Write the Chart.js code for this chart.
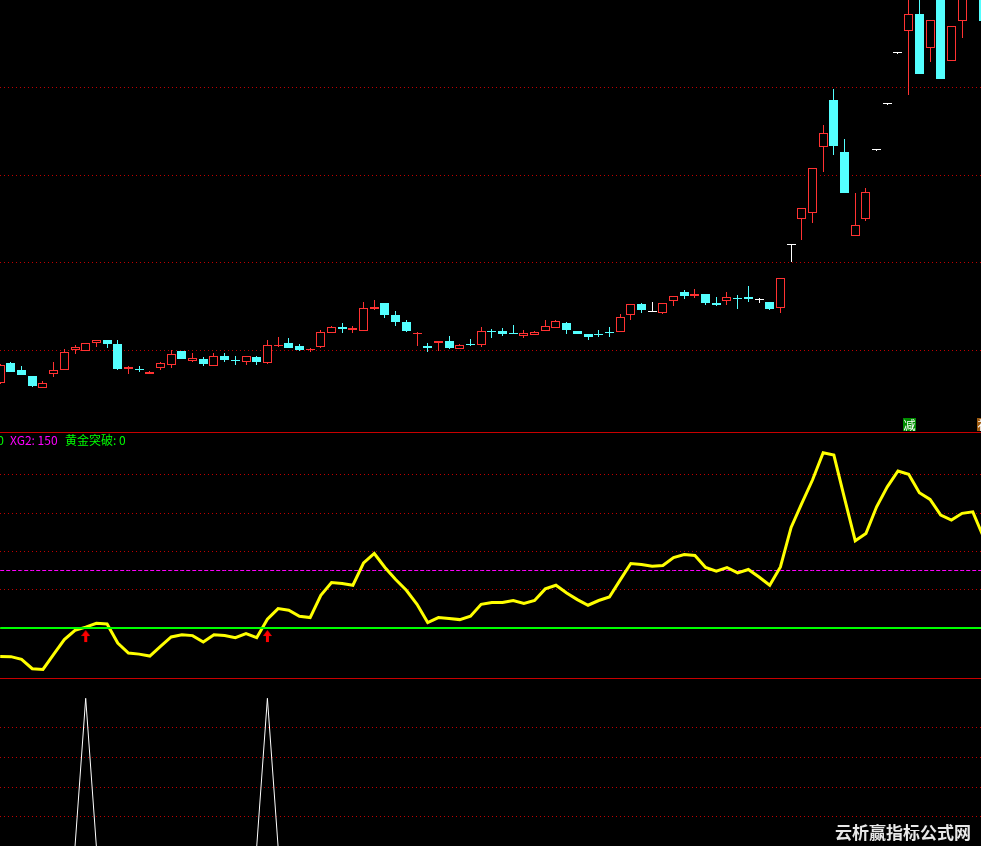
<!DOCTYPE html>
<html lang="zh-CN">
<head>
<meta charset="utf-8">
<title>黄金突破</title>
<script src="https://cdn.jsdelivr.net/npm/chart.js@4.4.1/dist/chart.umd.min.js"></script>
<style>
html,body{margin:0;padding:0;background:#000;width:981px;height:846px;overflow:hidden;position:relative;}
canvas{position:absolute;left:0;display:block;}
#c1{top:0;}
#c2{top:433px;}
#c3{top:679px;}
.sep{position:absolute;left:0;width:981px;height:1px;background:#c80000;}
#legend{position:absolute;top:433px;left:0;height:15px;width:981px;font:12px "Noto Sans CJK SC",sans-serif;line-height:14px;white-space:nowrap;}
#legend span{position:absolute;top:0;}
#wm{position:absolute;left:835px;top:819px;font:bold 17px "Noto Sans CJK SC",sans-serif;color:#e8e8e8;white-space:nowrap;}
</style>
</head>
<body>
<canvas id="c1" width="981" height="432"></canvas>
<div class="sep" style="top:432px"></div>
<canvas id="c2" width="981" height="245"></canvas>
<div class="sep" style="top:678px"></div>
<canvas id="c3" width="981" height="167"></canvas>
<div id="legend">
  <span id="lg1" style="right:977px;color:#00ff00"></span>
  <span id="lg2" style="left:10px;color:#ff00ff"></span>
  <span id="lg3" style="left:65px;color:#00ff00"></span>
</div>
<div id="wm">云析赢指标公式网</div>
<script>
// ---------- data ----------
const OPEN = [6.29, 8.54, 7.78, 7.09, 5.76, 7.35, 7.81, 10.06, 9.98, 10.82,
  11.20, 10.74, 7.89, 7.83, 7.32, 8.00, 8.38, 9.94, 8.80, 9.03,
  8.23, 9.37, 8.92, 8.72, 9.26, 8.57, 10.51, 10.86, 10.51, 10.06,
  10.40, 12.03, 12.68, 12.34, 12.26, 14.77, 15.42, 14.05, 13.25, 11.85,
  10.51, 10.82, 11.09, 10.21, 10.74, 10.66, 12.26, 12.23, 12.03, 11.69,
  11.80, 12.26, 12.60, 13.14, 12.23, 11.88, 11.88, 12.15, 12.15, 14.09,
  15.31, 14.36, 14.31, 15.68, 16.68, 16.25, 16.45, 15.46, 15.68, 15.99,
  16.11, 15.76, 15.54, 14.89, 22.01, 25.04, 25.73, 33.26, 38.59, 32.65,
  23.10, 25.04, 32.85, 38.10, 43.92, 46.50, 48.40, 44.56, 52.28, 43.07,
  47.64, 52.60, 53.42];
const HIGH = [8.46, 8.69, 8.23, 7.09, 6.52, 8.69, 10.14, 10.63, 10.86, 11.20,
  11.20, 11.20, 8.23, 8.23, 7.66, 8.69, 10.06, 9.94, 9.71, 9.26,
  9.71, 9.71, 9.37, 9.37, 9.37, 11.20, 11.54, 11.43, 10.74, 10.28,
  12.34, 12.80, 13.14, 12.80, 15.54, 15.76, 15.42, 14.51, 13.48, 12.15,
  10.86, 11.09, 11.66, 10.74, 11.31, 12.68, 12.45, 12.57, 12.91, 12.34,
  12.23, 13.48, 13.48, 13.25, 12.23, 11.88, 12.34, 12.68, 14.17, 15.31,
  15.42, 15.54, 15.42, 16.22, 16.91, 17.02, 16.45, 16.11, 16.68, 16.33,
  17.36, 15.99, 15.54, 18.27, 22.01, 26.23, 30.79, 35.74, 39.84, 34.14,
  27.97, 28.55, 32.85, 38.10, 43.92, 51.14, 50.91, 47.68, 52.85, 47.00,
  52.28, 56.00, 53.99];
const LOW = [6.18, 7.55, 7.20, 5.84, 5.76, 7.01, 7.81, 9.64, 9.98, 10.43,
  10.28, 7.78, 7.32, 7.55, 7.32, 7.78, 8.00, 9.03, 8.69, 8.23,
  8.23, 8.69, 8.35, 8.35, 8.35, 8.46, 10.40, 10.28, 9.94, 9.83,
  10.28, 12.03, 12.03, 12.03, 12.26, 14.66, 13.74, 12.83, 12.15, 10.55,
  9.86, 9.98, 10.17, 10.21, 10.51, 10.43, 11.46, 11.69, 11.92, 11.46,
  11.80, 12.26, 12.60, 11.92, 11.92, 11.23, 11.58, 11.58, 12.15, 13.52,
  14.31, 14.36, 14.20, 15.11, 15.88, 15.99, 15.23, 15.11, 15.23, 14.77,
  15.57, 15.46, 14.66, 14.31, 20.10, 22.61, 24.59, 30.41, 32.31, 28.01,
  23.10, 24.81, 32.85, 38.10, 43.92, 39.16, 41.59, 42.96, 40.98, 43.07,
  45.70, 52.20, 47.64];
const CLOSE = [8.35, 7.58, 7.20, 5.95, 6.29, 7.78, 9.83, 10.40, 10.86, 11.20,
  10.74, 7.89, 8.12, 7.72, 7.55, 8.57, 9.60, 9.03, 9.14, 8.46,
  9.37, 8.92, 8.80, 9.37, 8.69, 10.63, 10.63, 10.28, 10.06, 10.17,
  12.11, 12.68, 12.49, 12.57, 14.85, 14.97, 14.09, 13.29, 12.26, 12.03,
  10.32, 11.09, 10.32, 10.63, 10.59, 12.23, 12.11, 11.88, 11.92, 12.00,
  12.11, 12.80, 13.37, 12.37, 11.92, 11.58, 11.77, 12.03, 13.82, 15.31,
  14.66, 14.36, 15.42, 16.22, 16.22, 16.48, 15.46, 15.23, 16.11, 15.88,
  15.88, 15.76, 14.77, 18.27, 22.01, 26.23, 30.79, 34.79, 33.37, 28.01,
  24.29, 28.05, 32.85, 38.10, 43.92, 48.37, 41.59, 47.68, 40.98, 47.00,
  51.71, 55.20, 47.64];
// indicator (yellow line)
const LINE = [75.3, 75.1, 72.7, 64.6, 64.0, 77.1, 89.9, 98.0, 100.8, 104.1,
  103.5, 86.9, 78.2, 77.3, 75.6, 84.1, 92.2, 94.2, 93.4, 87.8,
  94.2, 93.4, 91.6, 95.1, 91.6, 107.6, 116.9, 115.4, 110.2, 109.1,
  128.5, 139.5, 138.7, 137.2, 156.6, 164.8, 152.6, 142.2, 132.8, 120.6,
  104.7, 109.1, 108.2, 107.3, 110.2, 120.6, 122.1, 122.1, 123.9, 121.3,
  123.9, 134.0, 137.2, 130.5, 124.7, 119.8, 123.9, 127.0, 141.6, 156.1,
  155.2, 153.7, 154.4, 161.3, 163.9, 163.1, 152.6, 149.4, 152.6, 147.9,
  150.9, 144.4, 137.2, 153.1, 187.5, 208.4, 228.7, 252.4, 250.4, 212.7,
  175.8, 182.2, 205.4, 222.8, 236.5, 233.6, 217.6, 211.8, 198.2, 193.8,
  199.7, 201.0, 179.0];
const XG1 = 100;
const XG2 = 150;
// 黄金突破 signal (1 = breakthrough)
const SIGNAL = [0, 0, 0, 0, 0, 0, 0, 0, 1, 0,
  0, 0, 0, 0, 0, 0, 0, 0, 0, 0,
  0, 0, 0, 0, 0, 1, 0, 0, 0, 0,
  0, 0, 0, 0, 0, 0, 0, 0, 0, 0,
  0, 0, 0, 0, 0, 0, 0, 0, 0, 0,
  0, 0, 0, 0, 0, 0, 0, 0, 0, 0,
  0, 0, 0, 0, 0, 0, 0, 0, 0, 0,
  0, 0, 0, 0, 0, 0, 0, 0, 0, 0,
  0, 0, 0, 0, 0, 0, 0, 0, 0, 0,
  0, 0, 0];
// labels on price pane
const TAG_INDEX = [85, 92];
const TAG_TEXT = ['减', '补'];
// grid levels
const PRICE_GRID = [10, 20, 30, 40];
const IND_GRID = [100, 400 / 3, 500 / 3, 200, 700 / 3];
const SIG_GRID = [0.2, 0.4, 0.6, 0.8];

// ---------- styling ----------
const UP = '#ff3232', DOWN = '#54ffff', FLAT = '#ffffff';
const GRID = '#c00000';
const XMIN = -0.0178, XMAX = 91.767;

document.getElementById('lg1').textContent = 'XG1: ' + XG1;
document.getElementById('lg2').textContent = 'XG2: ' + XG2;
document.getElementById('lg3').textContent = '黄金突破: ' + SIGNAL[SIGNAL.length - 1];

const xScale = () => ({type: 'linear', min: XMIN, max: XMAX, display: false, offset: false, grid: {display: false}});
function yScale(min, max, levels) {
  return {
    type: 'linear', position: 'left', min, max, display: true, offset: false,
    ticks: {display: false},
    grid: {color: GRID, lineWidth: 1, drawTicks: false, drawOnChartArea: true},
    border: {display: false, dash: [1, 3]},
    afterBuildTicks: s => { s.ticks = levels.map(v => ({value: v})); },
    afterFit: s => { s.width = 0; }
  };
}
const common = {
  responsive: false, animation: false, events: [], devicePixelRatio: 1,
  layout: {padding: 0, autoPadding: false},
  plugins: {legend: {display: false}, tooltip: {enabled: false}}
};

const col = OPEN.map((o, i) => CLOSE[i] > o ? UP : (CLOSE[i] < o ? DOWN : FLAT));
const fill = OPEN.map((o, i) => CLOSE[i] > o ? '#000000' : col[i]);

// snap candle rectangles to whole pixels for crisp edges
const snapPlugin = {
  id: 'snap',
  beforeDatasetsDraw(chart) {
    chart.data.datasets.forEach((ds, di) => {
      chart.getDatasetMeta(di).data.forEach(el => {
        el.x = Math.floor(el.x) + 0.5;
        const top = Math.round(Math.min(el.y, el.base));
        let bot = Math.round(Math.max(el.y, el.base));
        if (bot - top < 1) bot = top + 1;
        el.y = top; el.base = bot;
      });
    });
  }
};

const tagPlugin = {
  id: 'tags',
  afterDatasetsDraw(chart) {
    const ctx = chart.ctx, xs = chart.scales.x, b = chart.chartArea.bottom;
    const bg = ['#008c00', '#9c5a10'];
    ctx.save();
    ctx.font = '12px "Noto Sans CJK SC"';
    ctx.textAlign = 'center';
    ctx.textBaseline = 'middle';
    TAG_INDEX.forEach((idx, k) => {
      const x = Math.round(xs.getPixelForValue(idx));
      ctx.fillStyle = bg[k];
      ctx.fillRect(x - 6, b - 14, 13, 13);
      ctx.fillStyle = '#ffffff';
      ctx.fillText(TAG_TEXT[k], x + 0.5, b - 7);
    });
    ctx.restore();
  }
};

new Chart(document.getElementById('c1'), {
  type: 'bar',
  data: {datasets: [
    {label: 'body', data: OPEN.map((o, i) => ({x: i, y: [Math.min(o, CLOSE[i]), Math.max(o, CLOSE[i])]})),
     backgroundColor: fill, borderColor: col, borderWidth: 1, borderSkipped: false,
     barThickness: 9, grouped: false, minBarLength: 1, inflateAmount: 0, order: 0},
    {label: 'wick', data: HIGH.map((h, i) => ({x: i, y: [LOW[i], h]})),
     backgroundColor: col, borderWidth: 0, barThickness: 1, grouped: false, inflateAmount: 0, order: 1}
  ]},
  options: Object.assign({}, common, {scales: {x: xScale(), y: yScale(0.7, 50, PRICE_GRID)}}),
  plugins: [snapPlugin, tagPlugin]
});

// arrow image for breakthrough signal
const arrow = document.createElement('canvas');
arrow.width = 9; arrow.height = 30;
(function () {
  const g = arrow.getContext('2d');
  g.fillStyle = '#ff0000';
  g.beginPath(); g.moveTo(4.5, 17); g.lineTo(9, 23); g.lineTo(0, 23); g.closePath(); g.fill();
  g.fillRect(3, 23, 3, 6);
})();

new Chart(document.getElementById('c2'), {
  type: 'line',
  data: {datasets: [
    {label: 'XG1', data: LINE.map((_, i) => ({x: i, y: XG1})), borderColor: '#00ff00', borderWidth: 2, pointRadius: 0, order: 1},
    {label: '主线', data: LINE.map((v, i) => ({x: i, y: v})), borderColor: '#ffff00', borderWidth: 3, pointRadius: 0, tension: 0, order: 2},
    {label: 'XG2', data: LINE.map((_, i) => ({x: i, y: XG2})), borderColor: '#ff00ff', borderWidth: 1, borderDash: [4, 2], pointRadius: 0, order: 3},
    {label: '黄金突破', data: SIGNAL.map((s, i) => s ? {x: i, y: XG1} : null).filter(Boolean),
     showLine: false, pointStyle: arrow, pointRadius: 5, order: 0}
  ]},
  options: Object.assign({}, common, {scales: {x: xScale(), y: yScale(56.53, 269.57, IND_GRID)}})
});

new Chart(document.getElementById('c3'), {
  type: 'line',
  data: {datasets: [
    {label: '信号', data: SIGNAL.map((s, i) => ({x: i, y: s})), borderColor: '#ffffff', borderWidth: 1, pointRadius: 0, tension: 0}
  ]},
  options: Object.assign({}, common, {scales: {x: xScale(), y: yScale(0.004, 1.1301, SIG_GRID)}})
});
</script>
</body>
</html>
